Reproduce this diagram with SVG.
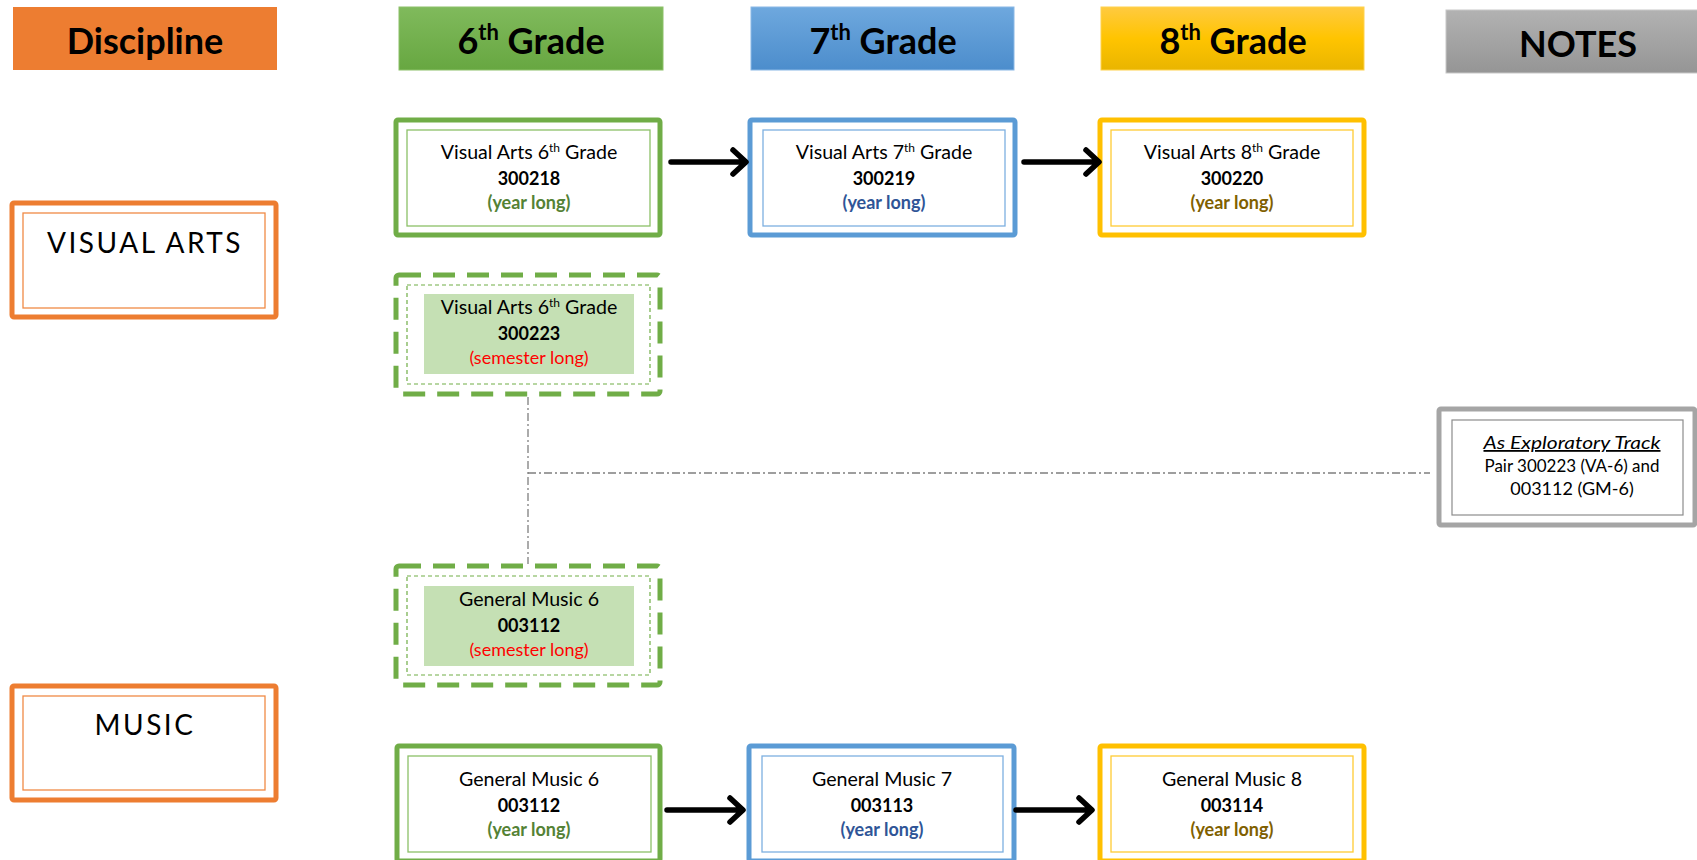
<svg xmlns="http://www.w3.org/2000/svg" width="1697" height="860" viewBox="0 0 1697 860">
<defs>
<linearGradient id="gGreen" x1="0" y1="0" x2="0" y2="1"><stop offset="0" stop-color="#80BA5C"/><stop offset="1" stop-color="#67A741"/></linearGradient>
<linearGradient id="gBlue" x1="0" y1="0" x2="0" y2="1"><stop offset="0" stop-color="#6EA8DE"/><stop offset="1" stop-color="#4C8DCC"/></linearGradient>
<linearGradient id="gGold" x1="0" y1="0" x2="0" y2="1"><stop offset="0" stop-color="#FFCA40"/><stop offset="0.5" stop-color="#FFC400"/><stop offset="1" stop-color="#E9B500"/></linearGradient>
<linearGradient id="gGray" x1="0" y1="0" x2="0" y2="1"><stop offset="0" stop-color="#B2B2B2"/><stop offset="1" stop-color="#959595"/></linearGradient>
</defs>
<style>
text{font-family:Lato,"Liberation Sans",sans-serif;fill:#000}
.hd{font-size:36px;font-weight:bold;text-anchor:middle}
.t{font-size:18px;text-anchor:middle}
.n{font-size:19.6px}
.b{font-weight:bold}
.disc{font-size:28px;letter-spacing:2.5px;text-anchor:middle}
.og{fill:none;stroke:#70AD47;stroke-width:5}
.ob{fill:none;stroke:#5B9BD5;stroke-width:5}
.oy{fill:none;stroke:#FFC000;stroke-width:5}
.oo{fill:none;stroke:#ED7D31;stroke-width:5}
.ig{fill:none;stroke:#8CC068;stroke-width:1.3}
.ib{fill:none;stroke:#7DB0E0;stroke-width:1.3}
.iy{fill:none;stroke:#FFCB33;stroke-width:1.3}
.io{fill:none;stroke:#F08A45;stroke-width:1.3}
.dg{fill:none;stroke:#70AD47;stroke-width:5;stroke-dasharray:22 12}
.dgi{fill:none;stroke:#70AD47;stroke-width:1.2;stroke-dasharray:4 3}
.gl{fill:#548235;font-weight:bold}
.bl{fill:#2F5597;font-weight:bold}
.yl{fill:#7F6000;font-weight:bold}
.rd{fill:#FF0000}
.arr{fill:none;stroke:#000;stroke-width:5.5;stroke-linecap:round;stroke-linejoin:round}
.con{fill:none;stroke:#7F7F7F;stroke-width:1.3;stroke-dasharray:8 3 2 3}
</style>

<g id="hdr-discipline"><rect x="13" y="7" width="264" height="63" fill="#ED7D31"/><text class="hd" x="145" y="54">Discipline</text></g>
<g id="hdr-6"><rect x="399" y="7" width="264" height="63" fill="url(#gGreen)" stroke="#8CC068" stroke-width="1"/><text class="hd" x="531" y="54">6<tspan font-size="22" dy="-14">th</tspan><tspan dy="14"> Grade</tspan></text></g>
<g id="hdr-7"><rect x="751" y="7" width="263" height="63" fill="url(#gBlue)" stroke="#8AB8E6" stroke-width="1"/><text class="hd" x="883" y="54">7<tspan font-size="22" dy="-14">th</tspan><tspan dy="14"> Grade</tspan></text></g>
<g id="hdr-8"><rect x="1101" y="7" width="263" height="63" fill="url(#gGold)" stroke="#FFD24D" stroke-width="1"/><text class="hd" x="1233" y="54">8<tspan font-size="22" dy="-14">th</tspan><tspan dy="14"> Grade</tspan></text></g>
<g id="hdr-notes"><rect x="1446" y="10" width="264" height="63" fill="url(#gGray)" stroke="#C8C8C8" stroke-width="1"/><text class="hd" x="1578" y="57">NOTES</text></g>

<g id="disc-visual-arts"><rect class="oo" x="12" y="203" width="264" height="114" rx="2"/><rect class="io" x="23" y="213" width="242" height="95"/><text class="disc" x="145" y="253">VISUAL ARTS</text></g>
<g id="disc-music"><rect class="oo" x="12" y="686" width="264" height="114" rx="2"/><rect class="io" x="23" y="696" width="242" height="94"/><text class="disc" x="145" y="735">MUSIC</text></g>

<g id="va6"><rect class="og" x="396" y="120" width="264" height="115" rx="2"/><rect class="ig" x="407" y="130" width="243" height="96"/>
<text class="t n" x="529" y="159">Visual Arts 6<tspan font-size="12" dy="-7">th</tspan><tspan dy="7"> Grade</tspan></text><text class="t b" x="529" y="185">300218</text><text class="t gl" x="529" y="209">(year long)</text></g>
<g id="va7"><rect class="ob" x="750" y="120" width="265" height="115" rx="2"/><rect class="ib" x="763" y="130" width="242" height="96"/>
<text class="t n" x="884" y="159">Visual Arts 7<tspan font-size="12" dy="-7">th</tspan><tspan dy="7"> Grade</tspan></text><text class="t b" x="884" y="185">300219</text><text class="t bl" x="884" y="209">(year long)</text></g>
<g id="va8"><rect class="oy" x="1100" y="120" width="264" height="115" rx="2"/><rect class="iy" x="1111" y="130" width="242" height="96"/>
<text class="t n" x="1232" y="159">Visual Arts 8<tspan font-size="12" dy="-7">th</tspan><tspan dy="7"> Grade</tspan></text><text class="t b" x="1232" y="185">300220</text><text class="t yl" x="1232" y="209">(year long)</text></g>

<g id="va6-sem"><rect class="dg" x="396" y="275" width="264" height="119" rx="3"/><rect class="dgi" x="407" y="285" width="243" height="99"/><rect x="424" y="294" width="210" height="80" fill="#C5E0B4"/>
<text class="t n" x="529" y="314">Visual Arts 6<tspan font-size="12" dy="-7">th</tspan><tspan dy="7"> Grade</tspan></text><text class="t b" x="529" y="340">300223</text><text class="t rd" x="529" y="364">(semester long)</text></g>
<g id="gm6-sem"><rect class="dg" x="396" y="566" width="264" height="119" rx="3"/><rect class="dgi" x="407" y="576" width="243" height="99"/><rect x="424" y="586" width="210" height="80" fill="#C5E0B4"/>
<text class="t n" x="529" y="606">General Music 6</text><text class="t b" x="529" y="632">003112</text><text class="t rd" x="529" y="656">(semester long)</text></g>

<g id="gm6"><rect class="og" x="397" y="746" width="263" height="115" rx="2"/><rect class="ig" x="408" y="756" width="243" height="96"/>
<text class="t n" x="529" y="786">General Music 6</text><text class="t b" x="529" y="812">003112</text><text class="t gl" x="529" y="836">(year long)</text></g>
<g id="gm7"><rect class="ob" x="749" y="746" width="265" height="115" rx="2"/><rect class="ib" x="762" y="756" width="241" height="96"/>
<text class="t n" x="882" y="786">General Music 7</text><text class="t b" x="882" y="812">003113</text><text class="t bl" x="882" y="836">(year long)</text></g>
<g id="gm8"><rect class="oy" x="1100" y="746" width="264" height="115" rx="2"/><rect class="iy" x="1111" y="756" width="242" height="96"/>
<text class="t n" x="1232" y="786">General Music 8</text><text class="t b" x="1232" y="812">003114</text><text class="t yl" x="1232" y="836">(year long)</text></g>

<g id="notes"><rect x="1439" y="409" width="256" height="116" rx="2" fill="none" stroke="#A5A5A5" stroke-width="5"/><rect x="1452" y="420" width="231" height="95" fill="none" stroke="#8C8C8C" stroke-width="1.2"/>
<text class="t" x="1572" y="449" font-style="italic" text-decoration="underline" font-size="18" textLength="177" lengthAdjust="spacingAndGlyphs">As Exploratory Track</text><text class="t" x="1572" y="472" font-size="16.5" textLength="175" lengthAdjust="spacingAndGlyphs">Pair 300223 (VA-6) and</text><text class="t" x="1572" y="495" font-size="16.5">003112 (GM-6)</text></g>

<g id="connectors">
<path class="arr" d="M671 162H745M733 150L746 162L733 174"/>
<path class="arr" d="M1024 162H1098M1086 150L1099 162L1086 174"/>
<path class="arr" d="M667 810H742M730 798L743 810L730 822"/>
<path class="arr" d="M1016 810H1091M1079 798L1092 810L1079 822"/>
<path class="con" d="M528 397V564"/>
<path class="con" d="M528 473H1430"/>
</g>
</svg>
